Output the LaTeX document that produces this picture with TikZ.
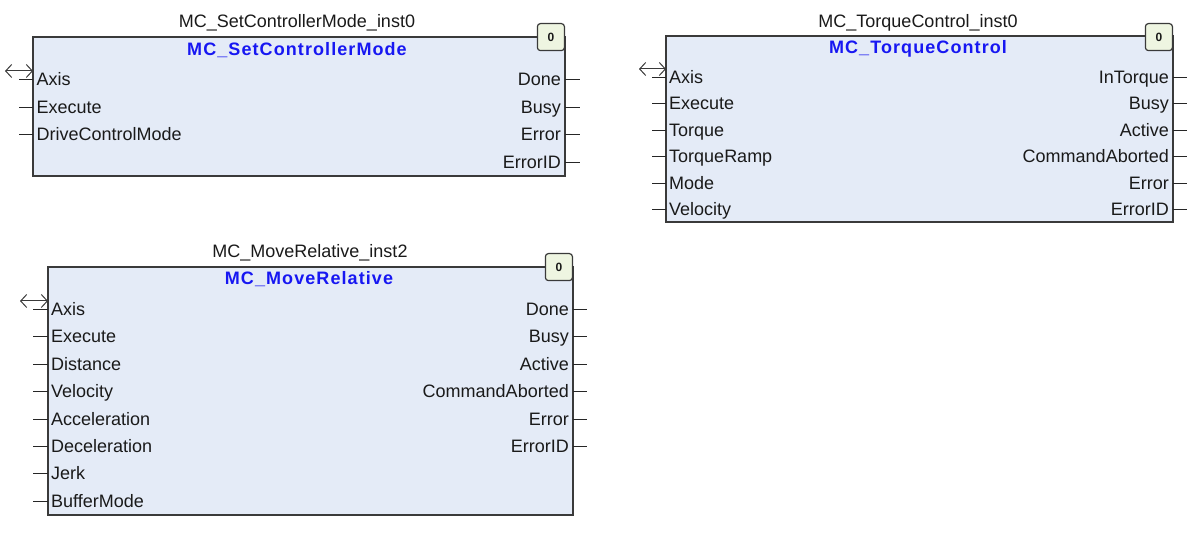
\documentclass[tikz,border=0pt]{standalone}
\usepackage{fontspec}
\setmainfont{Liberation Sans}
\newfontfamily\titlefont{Liberation Sans}[LetterSpace=6]
\usetikzlibrary{arrows.meta}
\definecolor{fbfill}{HTML}{E4EBF7}
\definecolor{fbline}{HTML}{3A3A3A}
\definecolor{badgefill}{HTML}{EEF5E1}
\definecolor{titleblue}{HTML}{1717F2}
\definecolor{txt}{HTML}{1A1A1A}
\newcommand\pinfnt{\fontsize{18}{20}\selectfont}
\tikzset{
 fb/.style={draw=fbline, fill=fbfill, line width=1.5pt, inner sep=0pt, outer sep=0pt, anchor=north west},
 badge/.style={draw=fbline, fill=badgefill, rounded corners=3pt, line width=1.2pt, minimum width=27pt, minimum height=27pt, inner sep=0pt, anchor=north east, text=txt, font=\fontsize{12}{12}\selectfont\bfseries},
 pinline/.style={line width=1.7pt, draw=black!85},
 pinl/.style={anchor=base west, inner sep=0pt, text=txt, font=\pinfnt},
 pinr/.style={anchor=base east, inner sep=0pt, text=txt, font=\pinfnt},
 inst/.style={anchor=base, inner sep=0pt, text=txt, font=\pinfnt},
 ttl/.style={anchor=base, inner sep=0pt, text=titleblue, font={\titlefont\bfseries\fontsize{18}{18}\selectfont}},
 inout/.style={{Straight Barb[length=6pt,width=13pt]}-{Straight Barb[length=6pt,width=13pt]}, line width=1pt, draw=fbline}
}
\begin{document}
\begin{tikzpicture}[x=1pt,y=-1pt]
\useasboundingbox (0,0) rectangle (1200,537);
% ---------- Block 1 ----------
\node[fb, minimum width=532pt, minimum height=139pt] (b1) at (33,37) {};
\node[badge] (b1bd) at (565,23) {0};
\node[inst] (b1n) at (297,28) {MC\_SetControllerMode\_inst0};
\node[ttl] (b1t) at (297,56) {MC\_SetControllerMode};
\foreach \t [count=\i] in {Axis,Execute,DriveControlMode} {
  \pgfmathsetmacro\yy{round(79+27.5*(\i-1))+0.5}
  \coordinate (b1i\i) at (19,\yy);
  \draw[pinline] (b1i\i) -- (b1i\i -| b1.west);
  \node[pinl] (b1il\i) at (36.5,\yy+6) {\t};
}
\foreach \t [count=\i] in {Done,Busy,Error,ErrorID} {
  \pgfmathsetmacro\yy{round(79+27.5*(\i-1))+0.5}
  \coordinate (b1o\i) at (580,\yy);
  \draw[pinline] (b1o\i -| b1.east) -- (b1o\i);
  \node[pinr] (b1ol\i) at (561,\yy+6) {\t};
}
\coordinate (b1ax) at (5,71);
\draw[inout] (b1ax) -- (b1ax -| b1.west);
% ---------- Block 2 ----------
\node[fb, minimum width=507pt, minimum height=186pt] (b2) at (666,36) {};
\node[badge] (b2bd) at (1173,23) {0};
\node[inst] (b2n) at (918,28) {MC\_TorqueControl\_inst0};
\node[ttl] (b2t) at (918,54) {MC\_TorqueControl};
\foreach \t [count=\i] in {Axis,Execute,Torque,TorqueRamp,Mode,Velocity} {
  \pgfmathsetmacro\yy{round(76.5+26.5*(\i-1))+0.5}
  \coordinate (b2i\i) at (652,\yy);
  \draw[pinline] (b2i\i) -- (b2i\i -| b2.west);
  \node[pinl] (b2il\i) at (669,\yy+6) {\t};
}
\foreach \t [count=\i] in {InTorque,Busy,Active,CommandAborted,Error,ErrorID} {
  \pgfmathsetmacro\yy{round(76.5+26.5*(\i-1))+0.5}
  \coordinate (b2o\i) at (1187,\yy);
  \draw[pinline] (b2o\i -| b2.east) -- (b2o\i);
  \node[pinr] (b2ol\i) at (1169,\yy+6) {\t};
}
\coordinate (b2ax) at (639,69);
\draw[inout] (b2ax) -- (b2ax -| b2.west);
% ---------- Block 3 ----------
\node[fb, minimum width=525pt, minimum height=248pt] (b3) at (48,267) {};
\node[badge] (b3bd) at (573,253) {0};
\node[inst] (b3n) at (310,258) {MC\_MoveRelative\_inst2};
\node[ttl] (b3t) at (309,285) {MC\_MoveRelative};
\foreach \t [count=\i] in {Axis,Execute,Distance,Velocity,Acceleration,Deceleration,Jerk,BufferMode} {
  \pgfmathsetmacro\yy{round(309+27.4*(\i-1))+0.5}
  \coordinate (b3i\i) at (33,\yy);
  \draw[pinline] (b3i\i) -- (b3i\i -| b3.west);
  \node[pinl] (b3il\i) at (51,\yy+6) {\t};
}
\foreach \t [count=\i] in {Done,Busy,Active,CommandAborted,Error,ErrorID} {
  \pgfmathsetmacro\yy{round(309+27.4*(\i-1))+0.5}
  \coordinate (b3o\i) at (587,\yy);
  \draw[pinline] (b3o\i -| b3.east) -- (b3o\i);
  \node[pinr] (b3ol\i) at (569,\yy+6) {\t};
}
\coordinate (b3ax) at (20,301);
\draw[inout] (b3ax) -- (b3ax -| b3.west);
\end{tikzpicture}
\end{document}
